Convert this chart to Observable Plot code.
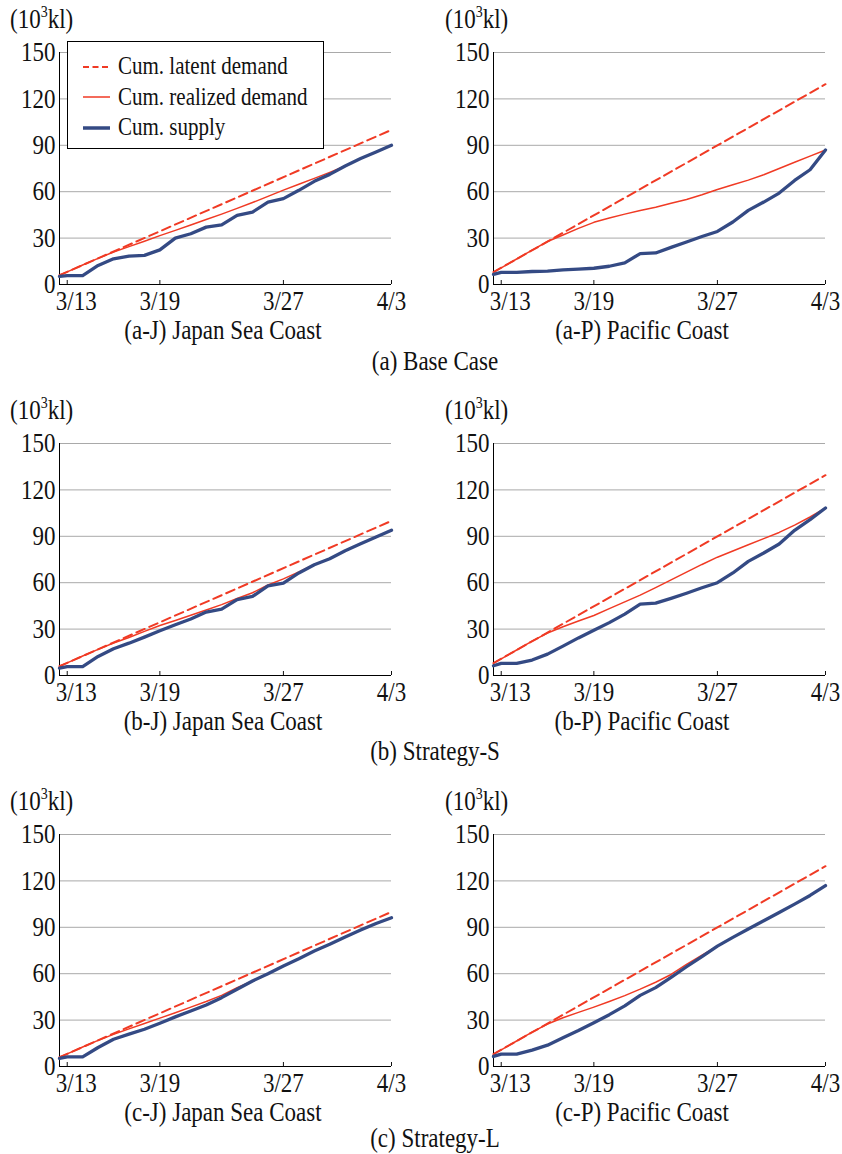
<!DOCTYPE html>
<html><head><meta charset="utf-8">
<script src="https://cdn.jsdelivr.net/npm/d3@7"></script>
<script src="https://cdn.jsdelivr.net/npm/@observablehq/plot@0.6"></script>
<style>
body{margin:0;background:#fff;}
#root{position:relative;width:842px;height:1154px;font-family:"Liberation Serif","Times New Roman",serif;color:#111;overflow:hidden;}
.abs{position:absolute;white-space:nowrap;line-height:1;}
.c{transform:translate(-50%,-50%) scaleY(1.17);font-size:23px;}
.unit{transform:translateY(-50%) scaleY(1.17);font-size:23px;}
.unit sup{font-size:14px;vertical-align:9px;line-height:0;}
.panel{position:absolute;}
.panel svg{overflow:visible;}
#legend{position:absolute;left:67px;top:41px;width:255px;height:106px;border:1.5px solid #000;background:#fff;font-size:21px;}
#legend .row{position:absolute;left:15px;display:flex;align-items:center;}
#legend .row span{margin-left:8px;display:inline-block;transform:scaleY(1.17);}
</style>
</head><body>
<div id="root"></div>
<script>
// ---- data ----
const days = [12.5, 13, 14, 15, 16, 17, 18, 19, 20, 21, 22, 23, 24, 25, 26, 27, 28, 29, 30, 31, 32, 33, 34];
const latentDays = [12.5, 34];
const xTickValues = [13, 19, 27, 34];
const xTickLabels = ["3/13", "3/19", "3/27", "4/3"];
const yTickValues = [0, 30, 60, 90, 120, 150];

const latentJ = [6, 100];
const latentP = [8, 129.5];

const aJ_realized = [6, 8.2, 12.6, 16.9, 21, 24.5, 28, 31.6, 35, 38.5, 42, 45.5, 49.2, 53, 57, 61, 64.8, 68.6, 72.5, 76.6, 81.4, 85.7, 90];
const aJ_supply   = [5.2, 5.8, 5.8, 12.3, 16.6, 18.3, 18.8, 22.4, 30, 32.8, 37.1, 38.6, 44.7, 46.8, 53.3, 55.5, 60.9, 66.7, 71.2, 76.6, 81.4, 85.7, 90];
const aP_realized = [8, 10.8, 16.5, 22.2, 27.8, 32, 36.3, 40.2, 43, 45.5, 47.8, 50, 52.5, 55, 58, 61.4, 64.5, 67.5, 71, 75, 79, 83, 87];
const aP_supply   = [6.5, 7.8, 7.8, 8.4, 8.6, 9.5, 9.9, 10.5, 11.8, 14, 20, 20.4, 24, 27.5, 31, 34.3, 40.4, 47.9, 53.3, 59.1, 67.3, 74.2, 87];
const bJ_realized = [6, 8.2, 12.6, 16.9, 21, 24.6, 28.5, 32.3, 35.6, 39, 42.4, 45.8, 49.8, 53.5, 58.5, 62.5, 67, 71.8, 75.5, 80.7, 85.2, 89.6, 93.9];
const bJ_supply   = [4.8, 5.8, 5.8, 12.3, 17.3, 20.9, 24.8, 28.9, 32.8, 36.5, 41, 42.9, 49, 51.1, 58, 59.8, 66.3, 71.6, 75.5, 80.7, 85.2, 89.6, 93.9];
const bP_realized = [8, 10.8, 16.5, 22.2, 27.5, 31.5, 35.2, 38.8, 43.2, 47.6, 52, 56.8, 61.8, 66.8, 71.8, 76.5, 80.5, 84.5, 88.5, 92.5, 97.2, 102.5, 108.3];
const bP_supply   = [6.3, 7.8, 7.8, 10, 13.8, 19, 24.3, 29.2, 34.2, 39.7, 46.1, 46.8, 49.9, 53.2, 56.7, 60, 66.3, 73.8, 79.2, 85, 93.9, 100.8, 108.3];
const cJ_realized = [6, 8.2, 12.6, 16.9, 20.8, 24.3, 27.8, 31.3, 34.8, 38.4, 42, 46, 51, 55.3, 60, 65, 69.7, 74.7, 79, 83.7, 88.2, 92.5, 96.2];
const cJ_supply   = [5.2, 6.2, 6.2, 12.3, 17.6, 20.9, 24.1, 28, 32.1, 35.9, 39.8, 44.5, 49.9, 55.3, 60, 65, 69.7, 74.7, 79, 83.7, 88.2, 92.5, 96.2];
const cP_realized = [8, 10.8, 16.5, 22.2, 27.5, 31.5, 35, 38.4, 42, 45.8, 50, 54.5, 59.5, 66, 72, 77.8, 83.5, 88.9, 94.2, 99.6, 105, 110.6, 117];
const cP_supply   = [6.5, 8, 8, 10.6, 13.8, 18.6, 23.3, 28.3, 33.5, 39.2, 46, 51, 57.7, 64.5, 71, 77.8, 83.5, 88.9, 94.2, 99.6, 105, 110.6, 117];

const subCaptionsJ = ["(a-J) Japan Sea Coast", "(b-J) Japan Sea Coast", "(c-J) Japan Sea Coast"];
const subCaptionsP = ["(a-P) Pacific Coast", "(b-P) Pacific Coast", "(c-P) Pacific Coast"];
const rowCaptions = ["(a) Base Case", "(b) Strategy-S", "(c) Strategy-L"];
const legendLabels = ["Cum. latent demand", "Cum. realized demand", "Cum. supply"];

const RED = "#f03a24", NAVY = "#344a84";

const panels = [
  {row: 0, side: "J", latent: latentJ, realized: aJ_realized, supply: aJ_supply},
  {row: 0, side: "P", latent: latentP, realized: aP_realized, supply: aP_supply},
  {row: 1, side: "J", latent: latentJ, realized: bJ_realized, supply: bJ_supply},
  {row: 1, side: "P", latent: latentP, realized: bP_realized, supply: bP_supply},
  {row: 2, side: "J", latent: latentJ, realized: cJ_realized, supply: cJ_supply},
  {row: 2, side: "P", latent: latentP, realized: cP_realized, supply: cP_supply}
];

const root = document.getElementById("root");
const rowZero = [284, 674.7, 1065.5];   // y of the 0-line of each row
const captionY = [361, 751, 1138];
const MT = 10, MB = 30, FRAME_H = 232;

function fmt(d) { return xTickLabels[xTickValues.indexOf(d)]; }

for (const p of panels) {
  const isJ = p.side === "J";
  const left = isJ ? 0 : 434;
  const width = isJ ? 420 : 408;
  const marginRight = isJ ? 29 : 17;
  const top = rowZero[p.row] - FRAME_H - MT;
  const lat = latentDays.map((d, i) => ({x: d, y: p.latent[i]}));
  const rea = days.map((d, i) => ({x: d, y: p.realized[i]}));
  const sup = days.map((d, i) => ({x: d, y: p.supply[i]}));
  const chart = Plot.plot({
    width, height: MT + FRAME_H + MB,
    marginLeft: 59, marginRight, marginTop: MT, marginBottom: MB,
    style: {fontFamily: '"Liberation Serif","Times New Roman",serif', fontSize: "23px", color: "#111", background: "transparent", overflow: "visible"},
    x: {domain: [days[0], days[days.length - 1]], label: null},
    y: {domain: [0, 150], label: null},
    marks: [
      Plot.gridY(yTickValues.filter(v => v > 0), {stroke: "#a9a9a9", strokeOpacity: 1, strokeWidth: 1}),
      Plot.axisY(yTickValues, {tickSize: 0, tickPadding: 4, label: null}),
      Plot.axisX(xTickValues, {tickSize: -4, tickFormat: () => "", label: null}),
      Plot.axisX(xTickValues.slice(0, 1), {tickSize: 0, tickPadding: 6, dx: 9, tickFormat: fmt, label: null}),
      Plot.axisX(xTickValues.slice(1), {tickSize: 0, tickPadding: 6, tickFormat: fmt, label: null}),
      Plot.ruleY([0], {stroke: "#000", strokeWidth: 1}),
      Plot.ruleX([days[0]], {stroke: "#000", strokeWidth: 1}),
      Plot.line(lat, {x: "x", y: "y", stroke: RED, strokeWidth: 2, strokeDasharray: "9,5"}),
      Plot.line(rea, {x: "x", y: "y", stroke: RED, strokeWidth: 1.5}),
      Plot.line(sup, {x: "x", y: "y", stroke: NAVY, strokeWidth: 3.3, strokeLinejoin: "round"})
    ]
  });
  // stretch tick label glyphs vertically a little (the reference type is tall)
  chart.querySelectorAll("text").forEach(t => {
    const tr = t.getAttribute("transform");
    if (tr) t.setAttribute("transform", tr + " scale(1,1.17)");
  });
  const wrap = document.createElement("div");
  wrap.className = "panel";
  wrap.style.left = left + "px";
  wrap.style.top = top + "px";
  wrap.appendChild(chart);
  root.appendChild(wrap);

  // unit label
  const u = document.createElement("div");
  u.className = "abs unit";
  u.style.left = (isJ ? 10 : 445) + "px";
  u.style.top = (rowZero[p.row] - 265) + "px";
  u.innerHTML = "(10<sup>3</sup>kl)";
  root.appendChild(u);

  // sub caption
  const s = document.createElement("div");
  s.className = "abs c";
  s.style.left = (isJ ? 223 : 642) + "px";
  s.style.top = (rowZero[p.row] + 46) + "px";
  s.textContent = isJ ? subCaptionsJ[p.row] : subCaptionsP[p.row];
  root.appendChild(s);
}

rowCaptions.forEach((t, r) => {
  const d = document.createElement("div");
  d.className = "abs c";
  d.style.left = "435px";
  d.style.top = captionY[r] + "px";
  d.textContent = t;
  root.appendChild(d);
});

// legend
const leg = document.createElement("div");
leg.id = "legend";
const swatches = [
  `<line x1="0" y1="5" x2="27" y2="5" stroke="${RED}" stroke-width="2" stroke-dasharray="6,3.5"/>`,
  `<line x1="0" y1="5" x2="27" y2="5" stroke="${RED}" stroke-width="1.5"/>`,
  `<line x1="0" y1="5" x2="27" y2="5" stroke="${NAVY}" stroke-width="3.5"/>`
];
legendLabels.forEach((t, i) => {
  const row = document.createElement("div");
  row.className = "row";
  row.style.top = (12 + i * 30.7) + "px";
  row.innerHTML = `<svg width="27" height="10">${swatches[i]}</svg><span>${t}</span>`;
  leg.appendChild(row);
});
root.appendChild(leg);
</script>
</body></html>
